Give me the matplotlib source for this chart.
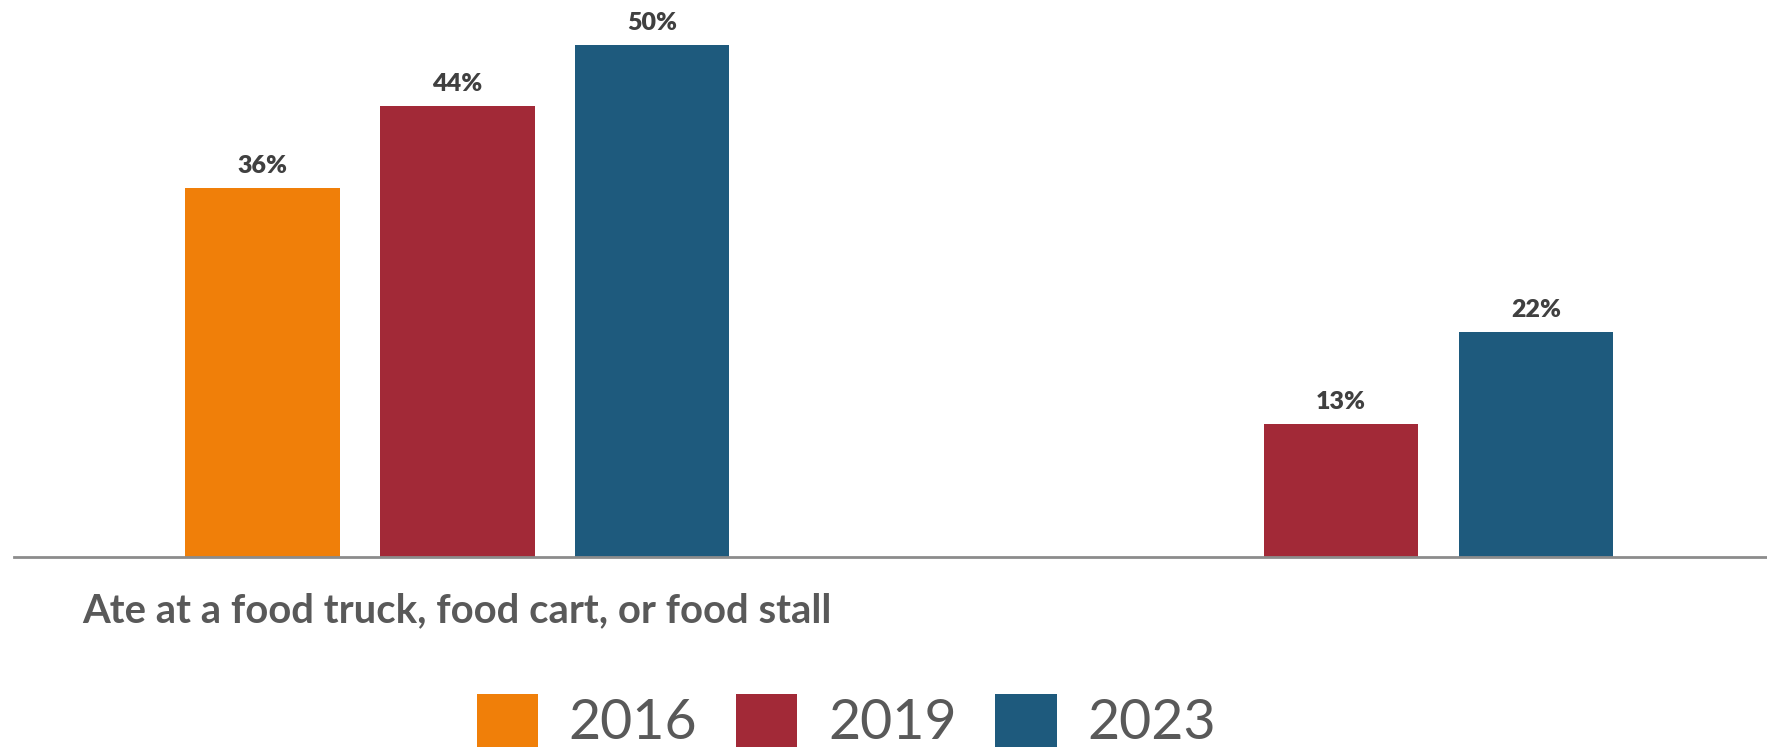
import numpy as np
import matplotlib
matplotlib.use("Agg")
from matplotlib import pyplot as plt

# survey share by year
categories = ["Ate at a food truck, food cart, or food stall", ""]
years = ["2016", "2019", "2023"]
pct_2016 = [36, np.nan]
pct_2019 = [44, 13]
pct_2023 = [50, 22]

colors = ["#F07F09", "#A22937", "#1E5A7D"]
TEXT_GRAY = "#595959"
LABEL_GRAY = "#404040"

plt.rcParams['font.family'] = ['Lato', 'DejaVu Sans']

fig = plt.figure(figsize=(17.67, 7.49), dpi=100)
ax = fig.add_axes([13.5 / 1767, (749 - 557) / 749, 1 - 13.5 / 1767, 557 / 749])

x = np.arange(len(categories))
width = 0.175
step = 0.2206

series = [pct_2016, pct_2019, pct_2023]
for i, (vals, year, col) in enumerate(zip(series, years, colors)):
    bars = ax.bar(x + (i - 1) * step, vals, width, color=col, label=year)
    labels = ["" if np.isnan(v) else "%d%%" % v for v in vals]
    ax.bar_label(bars, labels=labels, padding=8, fontsize=18,
                 fontweight='heavy', color=LABEL_GRAY)

ax.set_xlim(-0.502, 1.482)
ax.set_ylim(0, 54.4)

for side in ["top", "right", "left"]:
    ax.spines[side].set_visible(False)
ax.spines["bottom"].set_color("#8C8C8C")
ax.spines["bottom"].set_linewidth(2)
ax.set_yticks([])
ax.set_xticks(x)
ax.set_xticklabels(categories, fontsize=28.8, fontweight='bold', color=TEXT_GRAY)
ax.tick_params(axis='x', length=0, pad=25)

fig.legend(loc='upper center', bbox_to_anchor=(0.479, 0.111), ncol=3,
           frameon=False, fontsize=40, labelcolor=TEXT_GRAY,
           handlelength=1.1, handleheight=1.1, handletextpad=0.55,
           columnspacing=0.7, borderpad=0)

fig.savefig("out.png", dpi=100)
